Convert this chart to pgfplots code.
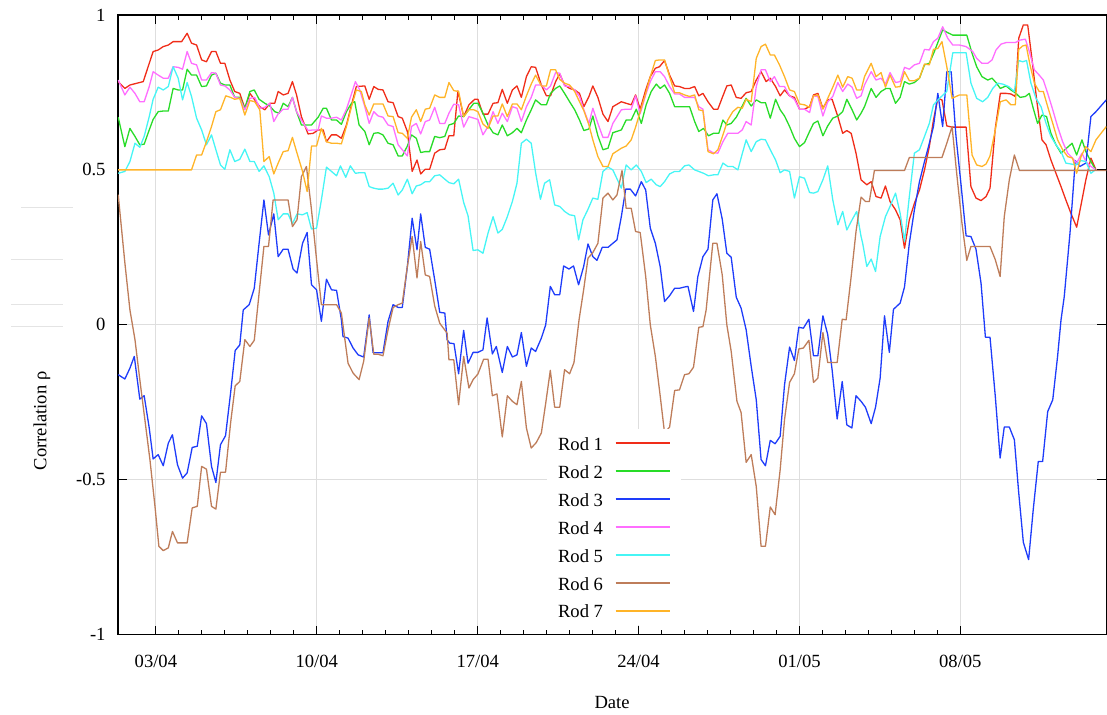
\documentclass[border=0pt]{standalone}
\usepackage{fontspec}
\setmainfont{Liberation Serif}
\usepackage{pgfplots}
\pgfplotsset{compat=1.18}

\definecolor{rodA}{RGB}{240,45,25}
\definecolor{rodB}{RGB}{40,220,40}
\definecolor{rodC}{RGB}{30,60,250}
\definecolor{rodD}{RGB}{255,110,255}
\definecolor{rodE}{RGB}{70,245,245}
\definecolor{rodF}{RGB}{190,125,90}
\definecolor{rodG}{RGB}{255,180,40}
\definecolor{gridgray}{RGB}{222,222,222}
\definecolor{ghost}{RGB}{228,228,228}

\begin{document}
\fontsize{9.3}{11}\selectfont
\begin{tikzpicture}
\begin{axis}[
  name=main,
  scale only axis,
  width=494.5pt, height=310pt,
  xmin=1.348, xmax=44.35, ymin=-1, ymax=1,
  xtick={3,10,17,24,31,38},
  xticklabels={03/04,10/04,17/04,24/04,01/05,08/05},
  minor x tick num=6,
  ytick={-1,-0.5,0,0.5,1},
  yticklabels={-1,-0.5,0,0.5,1},
  grid=major,
  major grid style={draw=gridgray, line width=0.5pt},
  tick align=inside,
  major tick length=4.5pt, minor tick length=2.5pt,
  every tick/.style={black, line width=0.6pt},
  axis line style={line width=0.7pt},
  xticklabel style={yshift=-7pt},
  yticklabel style={xshift=-2.9pt},
  xlabel={Date}, ylabel={Correlation ρ},
  xlabel style={at={(axis description cs:0.5,-0.1097)}, anchor=center},
  ylabel style={at={(axis description cs:-0.0768,0.345)}, anchor=center},
  every axis plot/.append style={line width=0.65pt, no marks, line join=round},
  legend plot pos=right,
  legend image code/.code={\draw[#1, line width=0.7pt] (0pt,0pt) -- (27pt,0pt);},
  legend style={at={(rel axis cs:0.4338,0.3323)}, anchor=north west,
    fill=white, draw=none, inner xsep=5.5pt, inner ysep=3.5pt,
    row sep=7pt, column sep=6pt,
    nodes={inner sep=0pt, text height=7pt, text depth=0pt}},
]

% Rod 1
\addplot[rodA] coordinates {(1.36,0.785)(1.65,0.763)(1.87,0.774)(2.45,0.785)(2.88,0.882)(3.1,0.887)(3.32,0.898)(3.54,0.903)(3.75,0.914)(4.12,0.914)(4.36,0.941)(4.55,0.909)(4.77,0.903)(4.99,0.855)(5.2,0.849)(5.42,0.882)(5.61,0.882)(5.81,0.844)(6.0,0.844)(6.22,0.79)(6.43,0.753)(6.65,0.747)(6.87,0.699)(7.09,0.747)(7.52,0.704)(7.74,0.694)(7.96,0.715)(8.17,0.715)(8.32,0.753)(8.54,0.742)(8.75,0.747)(8.94,0.785)(9.12,0.742)(9.33,0.672)(9.62,0.616)(9.84,0.618)(10.06,0.629)(10.28,0.629)(10.42,0.591)(10.64,0.613)(10.86,0.613)(11.07,0.602)(11.29,0.645)(11.51,0.71)(11.72,0.769)(12.09,0.771)(12.28,0.728)(12.48,0.769)(12.67,0.76)(12.88,0.758)(13.1,0.72)(13.32,0.717)(13.54,0.672)(13.72,0.667)(13.94,0.624)(14.15,0.495)(14.36,0.532)(14.52,0.487)(14.72,0.502)(14.91,0.502)(15.13,0.554)(15.35,0.565)(15.57,0.567)(15.75,0.61)(15.96,0.61)(16.14,0.755)(16.39,0.672)(16.62,0.71)(16.87,0.728)(17.01,0.728)(17.23,0.68)(17.45,0.68)(17.67,0.715)(17.88,0.717)(18.07,0.76)(18.29,0.715)(18.51,0.758)(18.71,0.771)(18.9,0.734)(19.12,0.801)(19.33,0.833)(19.52,0.831)(19.77,0.774)(19.99,0.739)(20.17,0.739)(20.39,0.785)(20.57,0.81)(20.78,0.774)(21.0,0.763)(21.22,0.758)(21.43,0.747)(21.62,0.704)(21.84,0.737)(22.01,0.771)(22.23,0.734)(22.45,0.68)(22.67,0.656)(22.88,0.704)(23.25,0.72)(23.46,0.715)(23.68,0.71)(23.87,0.742)(24.07,0.696)(24.31,0.758)(24.51,0.801)(24.73,0.828)(24.91,0.833)(25.13,0.853)(25.35,0.806)(25.57,0.771)(25.78,0.769)(26.0,0.763)(26.22,0.763)(26.44,0.769)(26.62,0.739)(26.8,0.747)(27.02,0.72)(27.26,0.696)(27.45,0.696)(27.67,0.739)(27.84,0.771)(28.03,0.774)(28.25,0.734)(28.46,0.731)(28.68,0.749)(28.9,0.753)(29.12,0.79)(29.33,0.817)(29.55,0.785)(29.73,0.796)(29.96,0.769)(30.16,0.739)(30.35,0.758)(30.57,0.739)(30.78,0.734)(31.0,0.696)(31.22,0.696)(31.44,0.704)(31.61,0.742)(31.8,0.747)(32.02,0.699)(32.23,0.726)(32.42,0.728)(32.67,0.672)(32.88,0.618)(33.06,0.627)(33.25,0.618)(33.46,0.554)(33.68,0.468)(33.93,0.452)(34.12,0.462)(34.33,0.414)(34.55,0.409)(34.74,0.448)(34.94,0.398)(35.18,0.371)(35.38,0.339)(35.57,0.247)(35.78,0.339)(36.0,0.392)(36.22,0.435)(36.44,0.5)(36.65,0.575)(36.83,0.661)(37.02,0.731)(37.2,0.726)(37.41,0.642)(37.64,0.638)(37.96,0.638)(38.25,0.638)(38.46,0.446)(38.68,0.409)(38.9,0.401)(39.12,0.414)(39.29,0.441)(39.52,0.634)(39.74,0.747)(39.99,0.747)(40.2,0.745)(40.39,0.737)(40.54,0.925)(40.74,0.968)(40.93,0.968)(41.12,0.855)(41.32,0.726)(41.55,0.597)(41.73,0.581)(41.94,0.532)(42.16,0.489)(42.38,0.446)(42.59,0.403)(42.81,0.36)(43.06,0.315)(43.25,0.387)(43.46,0.468)(43.68,0.538)(43.9,0.5)};
\addlegendentry{Rod 1}

% Rod 2
\addplot[rodB] coordinates {(1.36,0.67)(1.65,0.575)(1.87,0.634)(2.09,0.608)(2.3,0.581)(2.49,0.583)(2.71,0.629)(2.88,0.663)(3.1,0.688)(3.32,0.69)(3.54,0.69)(3.75,0.763)(3.97,0.758)(4.16,0.758)(4.36,0.825)(4.55,0.806)(4.77,0.806)(4.99,0.769)(5.2,0.771)(5.42,0.806)(5.61,0.812)(5.81,0.78)(6.0,0.774)(6.22,0.774)(6.43,0.734)(6.65,0.734)(6.87,0.699)(7.09,0.753)(7.28,0.758)(7.49,0.728)(7.74,0.715)(7.96,0.706)(8.17,0.688)(8.36,0.683)(8.54,0.715)(8.75,0.704)(8.94,0.734)(9.12,0.688)(9.33,0.645)(9.55,0.645)(9.77,0.645)(10.06,0.67)(10.28,0.699)(10.42,0.699)(10.64,0.661)(10.86,0.661)(11.07,0.647)(11.29,0.688)(11.51,0.715)(11.65,0.72)(11.84,0.645)(12.09,0.624)(12.28,0.581)(12.48,0.618)(12.67,0.62)(12.88,0.613)(13.1,0.586)(13.32,0.581)(13.54,0.545)(13.72,0.545)(13.94,0.577)(14.12,0.613)(14.33,0.602)(14.52,0.556)(14.72,0.559)(14.91,0.559)(15.13,0.608)(15.35,0.604)(15.57,0.608)(15.75,0.645)(15.96,0.65)(16.17,0.674)(16.39,0.672)(16.62,0.695)(16.83,0.715)(17.01,0.715)(17.23,0.683)(17.45,0.645)(17.67,0.62)(17.88,0.613)(18.07,0.645)(18.29,0.61)(18.51,0.62)(18.71,0.634)(18.9,0.62)(19.12,0.661)(19.33,0.694)(19.52,0.726)(19.77,0.71)(19.99,0.71)(20.17,0.747)(20.39,0.763)(20.57,0.771)(20.78,0.747)(21.0,0.72)(21.22,0.694)(21.43,0.661)(21.62,0.627)(21.84,0.632)(22.01,0.674)(22.23,0.61)(22.45,0.565)(22.67,0.57)(22.88,0.62)(23.25,0.629)(23.46,0.661)(23.68,0.661)(23.9,0.696)(24.12,0.65)(24.33,0.71)(24.55,0.753)(24.77,0.777)(24.94,0.763)(25.13,0.774)(25.35,0.747)(25.57,0.704)(25.78,0.704)(26.0,0.704)(26.22,0.704)(26.44,0.656)(26.62,0.624)(26.83,0.634)(27.04,0.61)(27.26,0.618)(27.49,0.618)(27.67,0.661)(27.84,0.645)(28.03,0.65)(28.25,0.67)(28.46,0.699)(28.68,0.731)(28.9,0.706)(29.12,0.726)(29.33,0.717)(29.52,0.717)(29.73,0.667)(29.96,0.728)(30.16,0.694)(30.35,0.674)(30.57,0.64)(30.78,0.602)(31.0,0.575)(31.22,0.588)(31.44,0.624)(31.61,0.65)(31.8,0.658)(32.02,0.61)(32.23,0.642)(32.45,0.667)(32.67,0.674)(32.88,0.688)(33.06,0.728)(33.29,0.694)(33.49,0.661)(33.68,0.683)(33.83,0.704)(34.12,0.763)(34.33,0.734)(34.55,0.753)(34.77,0.763)(34.94,0.763)(35.18,0.715)(35.38,0.734)(35.57,0.785)(35.78,0.777)(36.0,0.782)(36.22,0.796)(36.44,0.839)(36.65,0.844)(36.87,0.882)(37.23,0.952)(37.45,0.943)(37.67,0.935)(37.96,0.935)(38.28,0.935)(38.51,0.876)(38.71,0.833)(38.94,0.801)(39.19,0.79)(39.38,0.796)(39.55,0.782)(39.74,0.763)(39.99,0.771)(40.2,0.758)(40.39,0.749)(40.6,0.734)(40.83,0.737)(41.0,0.747)(41.17,0.699)(41.36,0.65)(41.55,0.677)(41.75,0.672)(41.94,0.618)(42.16,0.581)(42.38,0.554)(42.62,0.57)(42.86,0.586)(43.06,0.548)(43.29,0.597)(43.46,0.559)(43.68,0.527)(43.87,0.502)};
\addlegendentry{Rod 2}

% Rod 3
\addplot[rodC] coordinates {(1.36,-0.161)(1.65,-0.175)(1.87,-0.14)(2.06,-0.102)(2.3,-0.24)(2.49,-0.229)(2.71,-0.333)(2.88,-0.433)(3.1,-0.419)(3.32,-0.455)(3.54,-0.382)(3.72,-0.355)(3.94,-0.452)(4.16,-0.495)(4.36,-0.478)(4.58,-0.396)(4.8,-0.392)(4.99,-0.294)(5.2,-0.319)(5.42,-0.457)(5.61,-0.509)(5.81,-0.387)(6.03,-0.358)(6.25,-0.22)(6.45,-0.083)(6.65,-0.065)(6.8,0.048)(7.06,0.065)(7.28,0.118)(7.49,0.263)(7.7,0.403)(7.9,0.29)(8.13,0.358)(8.32,0.22)(8.54,0.244)(8.75,0.244)(8.97,0.18)(9.14,0.167)(9.38,0.263)(9.58,0.298)(9.77,0.129)(9.99,0.113)(10.2,0.011)(10.42,0.147)(10.64,0.113)(10.86,0.111)(11.07,0.016)(11.14,-0.038)(11.36,-0.043)(11.58,-0.075)(11.8,-0.097)(12.04,-0.104)(12.28,0.032)(12.45,-0.09)(12.67,-0.09)(12.88,-0.09)(13.1,0.011)(13.32,0.065)(13.54,0.056)(13.72,0.056)(13.94,0.188)(14.15,0.344)(14.36,0.242)(14.52,0.358)(14.72,0.25)(14.91,0.244)(15.13,0.145)(15.35,0.04)(15.57,0.038)(15.67,-0.048)(15.78,-0.059)(15.97,-0.061)(16.17,-0.158)(16.39,-0.018)(16.58,-0.124)(16.8,-0.089)(17.01,-0.089)(17.23,-0.081)(17.41,0.022)(17.64,-0.094)(17.81,-0.07)(18.07,-0.154)(18.29,-0.07)(18.51,-0.104)(18.71,-0.097)(18.9,-0.025)(19.12,-0.134)(19.33,-0.075)(19.52,-0.086)(19.77,-0.043)(19.96,0.0)(20.16,0.124)(20.35,0.097)(20.57,0.097)(20.74,0.19)(20.97,0.18)(21.17,0.19)(21.39,0.129)(21.61,0.188)(21.8,0.261)(22.01,0.22)(22.19,0.208)(22.42,0.25)(22.67,0.25)(22.88,0.263)(23.06,0.274)(23.25,0.349)(23.44,0.438)(23.64,0.438)(23.87,0.416)(24.12,0.462)(24.31,0.435)(24.51,0.312)(24.73,0.263)(24.94,0.188)(25.13,0.075)(25.35,0.094)(25.57,0.118)(25.78,0.118)(26.0,0.122)(26.15,0.124)(26.39,0.043)(26.58,0.156)(26.8,0.22)(27.02,0.244)(27.23,0.403)(27.41,0.423)(27.64,0.341)(27.84,0.231)(28.03,0.218)(28.25,0.089)(28.46,0.054)(28.68,-0.016)(28.9,-0.134)(29.12,-0.242)(29.33,-0.435)(29.52,-0.455)(29.73,-0.373)(29.94,-0.384)(30.16,-0.36)(30.35,-0.194)(30.57,-0.072)(30.78,-0.115)(30.97,-0.008)(31.17,-0.011)(31.41,0.018)(31.61,-0.1)(31.8,-0.1)(32.02,0.029)(32.23,-0.032)(32.42,-0.145)(32.64,-0.304)(32.86,-0.183)(33.06,-0.323)(33.28,-0.333)(33.46,-0.229)(33.68,-0.247)(33.87,-0.266)(34.12,-0.319)(34.31,-0.266)(34.51,-0.172)(34.7,0.029)(34.91,-0.089)(35.09,0.05)(35.38,0.07)(35.57,0.122)(35.78,0.263)(36.0,0.371)(36.22,0.462)(36.44,0.527)(36.62,0.577)(36.83,0.64)(37.02,0.747)(37.23,0.64)(37.41,0.817)(37.6,0.817)(37.81,0.608)(38.03,0.452)(38.25,0.287)(38.46,0.285)(38.68,0.244)(38.9,0.134)(39.09,-0.04)(39.29,-0.04)(39.52,-0.231)(39.73,-0.43)(39.91,-0.33)(40.13,-0.33)(40.35,-0.371)(40.54,-0.543)(40.74,-0.702)(40.97,-0.758)(41.17,-0.597)(41.39,-0.441)(41.58,-0.441)(41.8,-0.28)(42.02,-0.242)(42.23,-0.102)(42.38,0.016)(42.52,0.091)(42.77,0.296)(43.0,0.53)(43.2,0.511)(43.46,0.522)(43.68,0.672)(43.9,0.688)(44.35,0.726)};
\addlegendentry{Rod 3}

% Rod 4
\addplot[rodD] coordinates {(1.36,0.79)(1.65,0.742)(1.87,0.767)(2.09,0.747)(2.3,0.72)(2.49,0.72)(2.71,0.769)(2.88,0.817)(3.1,0.806)(3.32,0.796)(3.54,0.796)(3.75,0.833)(3.97,0.831)(4.16,0.825)(4.36,0.882)(4.55,0.844)(4.77,0.839)(4.99,0.79)(5.2,0.79)(5.42,0.814)(5.61,0.812)(5.81,0.774)(6.0,0.771)(6.22,0.758)(6.43,0.734)(6.65,0.731)(6.87,0.694)(7.09,0.731)(7.3,0.734)(7.52,0.699)(7.74,0.702)(7.96,0.715)(8.13,0.656)(8.32,0.681)(8.54,0.696)(8.75,0.696)(8.94,0.734)(9.12,0.688)(9.33,0.661)(9.62,0.627)(9.84,0.629)(10.06,0.629)(10.2,0.674)(10.42,0.667)(10.64,0.667)(10.86,0.67)(11.07,0.661)(11.29,0.696)(11.46,0.734)(11.68,0.785)(11.87,0.758)(12.09,0.704)(12.28,0.65)(12.48,0.688)(12.67,0.674)(12.88,0.67)(13.1,0.645)(13.32,0.64)(13.54,0.581)(13.72,0.565)(13.94,0.545)(14.12,0.64)(14.33,0.65)(14.52,0.616)(14.72,0.656)(14.91,0.661)(15.13,0.702)(15.35,0.65)(15.57,0.65)(15.75,0.683)(15.96,0.712)(16.17,0.71)(16.39,0.638)(16.62,0.672)(16.83,0.667)(17.01,0.663)(17.23,0.613)(17.45,0.64)(17.67,0.688)(17.88,0.65)(18.07,0.683)(18.29,0.656)(18.51,0.704)(18.71,0.699)(18.9,0.656)(19.12,0.704)(19.33,0.734)(19.52,0.774)(19.77,0.774)(19.99,0.758)(20.17,0.771)(20.39,0.814)(20.57,0.812)(20.78,0.771)(21.0,0.769)(21.22,0.758)(21.43,0.737)(21.62,0.694)(21.84,0.65)(22.01,0.699)(22.23,0.65)(22.45,0.605)(22.67,0.605)(22.88,0.65)(23.25,0.694)(23.46,0.696)(23.68,0.696)(23.87,0.739)(24.07,0.681)(24.31,0.742)(24.51,0.785)(24.73,0.817)(24.94,0.817)(25.13,0.801)(25.35,0.769)(25.57,0.745)(25.78,0.745)(26.0,0.734)(26.22,0.734)(26.44,0.734)(26.62,0.704)(26.8,0.696)(27.02,0.565)(27.23,0.556)(27.45,0.554)(27.67,0.591)(27.88,0.618)(28.1,0.618)(28.32,0.618)(28.51,0.629)(28.68,0.656)(28.9,0.645)(29.12,0.769)(29.33,0.823)(29.52,0.823)(29.73,0.785)(29.91,0.801)(30.13,0.769)(30.35,0.769)(30.57,0.739)(30.78,0.728)(31.0,0.696)(31.22,0.696)(31.44,0.685)(31.61,0.739)(31.8,0.737)(32.02,0.674)(32.23,0.72)(32.45,0.737)(32.67,0.782)(32.88,0.753)(33.1,0.777)(33.29,0.767)(33.49,0.731)(33.68,0.739)(33.83,0.774)(34.12,0.817)(34.33,0.79)(34.55,0.796)(34.74,0.777)(34.94,0.814)(35.18,0.782)(35.38,0.785)(35.57,0.831)(35.78,0.825)(36.0,0.839)(36.22,0.844)(36.44,0.889)(36.65,0.887)(36.83,0.914)(37.02,0.925)(37.23,0.962)(37.45,0.925)(37.67,0.903)(37.96,0.903)(38.25,0.898)(38.54,0.882)(38.71,0.86)(38.94,0.844)(39.19,0.844)(39.38,0.855)(39.55,0.887)(39.77,0.906)(39.99,0.911)(40.2,0.911)(40.39,0.911)(40.6,0.919)(40.83,0.922)(41.0,0.882)(41.22,0.823)(41.43,0.806)(41.61,0.79)(41.8,0.747)(42.02,0.694)(42.23,0.64)(42.45,0.591)(42.67,0.554)(42.88,0.538)(43.06,0.522)(43.29,0.554)(43.46,0.527)(43.68,0.511)(43.87,0.502)};
\addlegendentry{Rod 4}

% Rod 5
\addplot[rodE] coordinates {(1.36,0.489)(1.65,0.495)(1.87,0.527)(2.09,0.586)(2.3,0.573)(2.49,0.608)(2.71,0.672)(2.88,0.728)(3.1,0.767)(3.32,0.758)(3.54,0.769)(3.75,0.833)(3.97,0.796)(4.16,0.726)(4.36,0.782)(4.55,0.737)(4.77,0.667)(4.99,0.629)(5.2,0.581)(5.42,0.613)(5.61,0.565)(5.81,0.516)(6.0,0.502)(6.22,0.565)(6.43,0.527)(6.65,0.534)(6.87,0.567)(7.09,0.527)(7.28,0.527)(7.49,0.495)(7.7,0.513)(7.93,0.478)(8.13,0.425)(8.32,0.339)(8.54,0.358)(8.75,0.358)(8.94,0.326)(9.14,0.358)(9.38,0.355)(9.58,0.362)(9.77,0.309)(9.99,0.312)(10.2,0.403)(10.42,0.509)(10.64,0.495)(10.86,0.481)(11.03,0.513)(11.26,0.476)(11.46,0.513)(11.68,0.489)(11.87,0.491)(12.09,0.491)(12.28,0.446)(12.48,0.441)(12.67,0.438)(12.88,0.438)(13.1,0.441)(13.32,0.457)(13.54,0.419)(13.72,0.435)(13.94,0.47)(14.15,0.423)(14.33,0.448)(14.52,0.452)(14.72,0.462)(14.91,0.462)(15.13,0.481)(15.35,0.484)(15.57,0.47)(15.75,0.459)(15.96,0.455)(16.17,0.47)(16.39,0.395)(16.58,0.352)(16.8,0.24)(17.01,0.242)(17.23,0.231)(17.45,0.296)(17.67,0.349)(17.88,0.296)(18.07,0.308)(18.29,0.349)(18.51,0.398)(18.71,0.457)(18.9,0.586)(19.12,0.599)(19.33,0.586)(19.52,0.491)(19.73,0.405)(19.91,0.457)(20.13,0.468)(20.35,0.387)(20.57,0.382)(20.78,0.366)(21.0,0.355)(21.22,0.352)(21.39,0.274)(21.58,0.339)(21.8,0.373)(22.01,0.409)(22.23,0.405)(22.45,0.495)(22.67,0.509)(22.88,0.5)(23.25,0.441)(23.46,0.516)(23.68,0.5)(23.9,0.516)(24.12,0.495)(24.33,0.459)(24.55,0.47)(24.77,0.452)(24.94,0.446)(25.13,0.462)(25.35,0.487)(25.57,0.495)(25.78,0.495)(26.0,0.513)(26.19,0.516)(26.44,0.5)(26.62,0.495)(26.83,0.489)(27.04,0.481)(27.26,0.484)(27.45,0.484)(27.67,0.522)(27.88,0.511)(28.1,0.511)(28.32,0.5)(28.51,0.552)(28.68,0.597)(28.9,0.559)(29.12,0.591)(29.33,0.599)(29.52,0.597)(29.73,0.565)(29.96,0.532)(30.16,0.491)(30.35,0.5)(30.57,0.495)(30.78,0.409)(31.0,0.478)(31.22,0.473)(31.44,0.427)(31.61,0.425)(31.8,0.43)(32.02,0.468)(32.23,0.513)(32.45,0.403)(32.67,0.323)(32.88,0.366)(33.06,0.306)(33.29,0.339)(33.49,0.366)(33.68,0.285)(33.75,0.263)(33.93,0.188)(34.12,0.212)(34.31,0.172)(34.51,0.285)(34.74,0.349)(34.94,0.382)(35.18,0.425)(35.38,0.36)(35.57,0.269)(35.78,0.414)(36.0,0.554)(36.22,0.565)(36.44,0.608)(36.65,0.65)(36.83,0.71)(37.09,0.731)(37.41,0.753)(37.67,0.878)(37.96,0.878)(38.25,0.878)(38.46,0.78)(38.71,0.731)(38.97,0.72)(39.19,0.734)(39.41,0.763)(39.62,0.78)(39.84,0.777)(40.1,0.769)(40.35,0.753)(40.54,0.853)(40.71,0.849)(40.88,0.853)(41.07,0.78)(41.29,0.731)(41.51,0.704)(41.73,0.65)(41.94,0.608)(42.16,0.581)(42.38,0.559)(42.59,0.522)(42.81,0.519)(43.03,0.516)(43.25,0.53)(43.46,0.527)(43.68,0.489)(43.87,0.5)};
\addlegendentry{Rod 5}

% Rod 6
\addplot[rodF] coordinates {(1.36,0.42)(1.65,0.2)(1.87,0.048)(2.09,-0.048)(2.3,-0.177)(2.52,-0.306)(2.74,-0.435)(2.96,-0.586)(3.13,-0.715)(3.32,-0.729)(3.54,-0.72)(3.72,-0.667)(3.94,-0.704)(4.16,-0.704)(4.36,-0.704)(4.58,-0.591)(4.8,-0.586)(4.99,-0.457)(5.2,-0.466)(5.42,-0.586)(5.61,-0.595)(5.81,-0.476)(6.03,-0.476)(6.25,-0.317)(6.45,-0.197)(6.65,-0.183)(6.87,-0.048)(7.09,-0.07)(7.28,-0.05)(7.49,0.102)(7.7,0.253)(7.9,0.253)(8.1,0.403)(8.75,0.403)(8.94,0.317)(9.14,0.339)(9.33,0.478)(9.55,0.511)(9.77,0.371)(9.99,0.21)(10.2,0.065)(10.86,0.065)(11.07,0.038)(11.36,-0.124)(11.58,-0.156)(11.84,-0.177)(12.04,-0.118)(12.28,0.022)(12.48,-0.095)(12.67,-0.095)(12.88,-0.1)(13.1,-0.016)(13.32,0.056)(13.54,0.065)(13.72,0.07)(13.94,0.188)(14.15,0.285)(14.36,0.151)(14.52,0.269)(14.72,0.161)(14.91,0.156)(15.13,0.061)(15.35,0.005)(15.67,-0.027)(15.75,-0.113)(15.96,-0.113)(16.17,-0.258)(16.39,-0.102)(16.62,-0.204)(16.8,-0.177)(17.01,-0.159)(17.26,-0.111)(17.45,-0.111)(17.64,-0.229)(17.84,-0.223)(18.07,-0.362)(18.29,-0.229)(18.51,-0.247)(18.71,-0.258)(18.9,-0.183)(19.12,-0.333)(19.33,-0.398)(19.55,-0.38)(19.77,-0.349)(19.96,-0.253)(20.16,-0.147)(20.35,-0.266)(20.57,-0.266)(20.78,-0.145)(21.0,-0.158)(21.19,-0.122)(21.41,0.016)(21.61,0.113)(21.8,0.215)(22.01,0.233)(22.23,0.263)(22.45,0.409)(22.67,0.425)(22.88,0.403)(23.06,0.419)(23.28,0.498)(23.46,0.376)(23.68,0.376)(23.87,0.301)(24.07,0.298)(24.31,0.156)(24.51,0.0)(24.73,-0.102)(24.94,-0.229)(25.13,-0.349)(25.35,-0.33)(25.57,-0.212)(25.78,-0.21)(26.0,-0.161)(26.19,-0.158)(26.39,-0.137)(26.62,-0.008)(26.8,-0.006)(26.94,0.048)(27.23,0.263)(27.41,0.263)(27.64,0.161)(27.84,0.0)(28.03,-0.086)(28.28,-0.247)(28.46,-0.283)(28.68,-0.444)(28.9,-0.419)(29.12,-0.522)(29.33,-0.715)(29.52,-0.715)(29.73,-0.588)(29.94,-0.613)(30.16,-0.468)(30.35,-0.306)(30.57,-0.186)(30.78,-0.158)(30.97,-0.078)(31.17,-0.075)(31.41,-0.05)(31.61,-0.186)(31.8,-0.172)(32.02,-0.025)(32.23,-0.122)(32.42,-0.122)(32.64,-0.122)(32.86,0.018)(33.03,0.016)(33.25,0.156)(33.46,0.301)(33.68,0.412)(33.87,0.398)(34.04,0.398)(34.26,0.498)(35.57,0.498)(35.78,0.54)(37.2,0.54)(37.41,0.586)(37.64,0.64)(37.84,0.489)(38.07,0.328)(38.28,0.208)(38.46,0.253)(39.29,0.253)(39.52,0.21)(39.73,0.156)(39.91,0.349)(40.13,0.468)(40.35,0.548)(40.57,0.498)(44.35,0.498)};
\addlegendentry{Rod 6}

% Rod 7
\addplot[rodG] coordinates {(1.36,0.5)(4.55,0.5)(4.77,0.548)(4.99,0.548)(5.2,0.591)(5.42,0.64)(5.61,0.688)(5.81,0.694)(6.04,0.739)(6.25,0.734)(6.43,0.728)(6.65,0.731)(6.87,0.677)(7.09,0.724)(7.3,0.72)(7.52,0.694)(7.7,0.527)(7.93,0.543)(8.13,0.487)(8.32,0.522)(8.54,0.559)(8.75,0.562)(8.94,0.605)(9.12,0.559)(9.38,0.495)(9.58,0.43)(9.77,0.577)(9.99,0.577)(10.2,0.634)(10.42,0.591)(10.64,0.586)(10.86,0.586)(11.07,0.584)(11.29,0.64)(11.51,0.704)(11.72,0.758)(11.94,0.753)(12.09,0.71)(12.28,0.677)(12.48,0.713)(12.67,0.713)(12.88,0.713)(13.1,0.674)(13.32,0.672)(13.54,0.62)(13.72,0.618)(13.94,0.602)(14.12,0.67)(14.33,0.694)(14.52,0.656)(14.72,0.696)(14.91,0.699)(15.13,0.742)(15.35,0.734)(15.57,0.734)(15.75,0.782)(15.96,0.756)(16.17,0.753)(16.39,0.672)(16.62,0.694)(16.83,0.694)(17.01,0.688)(17.23,0.648)(17.45,0.634)(17.67,0.674)(17.88,0.674)(18.07,0.713)(18.29,0.672)(18.51,0.713)(18.71,0.713)(18.9,0.694)(19.12,0.739)(19.33,0.777)(19.52,0.806)(19.77,0.771)(19.99,0.771)(20.17,0.823)(20.39,0.823)(20.57,0.792)(20.78,0.78)(21.0,0.774)(21.22,0.753)(21.43,0.72)(21.62,0.691)(21.84,0.645)(22.01,0.597)(22.23,0.543)(22.45,0.511)(22.67,0.511)(22.88,0.552)(23.25,0.57)(23.46,0.577)(23.68,0.597)(23.87,0.638)(24.07,0.688)(24.31,0.747)(24.51,0.801)(24.73,0.853)(24.91,0.855)(25.13,0.855)(25.35,0.801)(25.57,0.749)(25.78,0.749)(26.0,0.742)(26.22,0.737)(26.44,0.742)(26.62,0.694)(26.8,0.691)(27.02,0.559)(27.26,0.552)(27.45,0.565)(27.67,0.613)(27.88,0.661)(28.1,0.688)(28.32,0.702)(28.51,0.699)(28.68,0.728)(28.9,0.72)(29.12,0.86)(29.33,0.898)(29.52,0.906)(29.73,0.871)(29.91,0.871)(30.13,0.839)(30.35,0.801)(30.57,0.758)(30.78,0.753)(31.0,0.713)(31.22,0.71)(31.44,0.702)(31.61,0.739)(31.8,0.742)(32.02,0.696)(32.23,0.731)(32.45,0.767)(32.67,0.806)(32.88,0.767)(33.1,0.801)(33.29,0.796)(33.49,0.758)(33.68,0.758)(33.83,0.801)(34.12,0.844)(34.33,0.801)(34.55,0.814)(34.74,0.767)(34.94,0.806)(35.18,0.767)(35.38,0.769)(35.57,0.817)(35.78,0.788)(36.0,0.788)(36.22,0.796)(36.44,0.842)(36.65,0.839)(36.83,0.889)(37.02,0.892)(37.2,0.914)(37.41,0.833)(37.64,0.731)(37.96,0.742)(38.28,0.742)(38.51,0.548)(38.71,0.516)(38.94,0.511)(39.12,0.519)(39.29,0.545)(39.52,0.629)(39.74,0.72)(39.99,0.726)(40.2,0.71)(40.39,0.71)(40.54,0.889)(40.71,0.9)(40.86,0.903)(41.03,0.839)(41.22,0.78)(41.43,0.753)(41.61,0.753)(41.8,0.704)(42.02,0.65)(42.23,0.597)(42.45,0.565)(42.67,0.543)(42.88,0.538)(43.06,0.489)(43.25,0.543)(43.46,0.575)(43.68,0.559)(43.9,0.597)(44.35,0.64)};
\addlegendentry{Rod 7}

\end{axis}
% faint rules left of the vertical axis
\draw[ghost, line width=0.6pt] ([xshift=-48.5pt,yshift=213.65pt]main.south west) -- ++(26pt,0);
\draw[ghost, line width=0.6pt] ([xshift=-53.5pt,yshift=187.5pt]main.south west) -- ++(26pt,0);
\draw[ghost, line width=0.6pt] ([xshift=-53.5pt,yshift=165pt]main.south west) -- ++(26pt,0);
\draw[ghost, line width=0.6pt] ([xshift=-53.5pt,yshift=154pt]main.south west) -- ++(26pt,0);
% page frame
\path ([xshift=-59pt,yshift=-39pt]main.south west) rectangle ([yshift=7.5pt]main.north east);
\end{tikzpicture}
\end{document}
